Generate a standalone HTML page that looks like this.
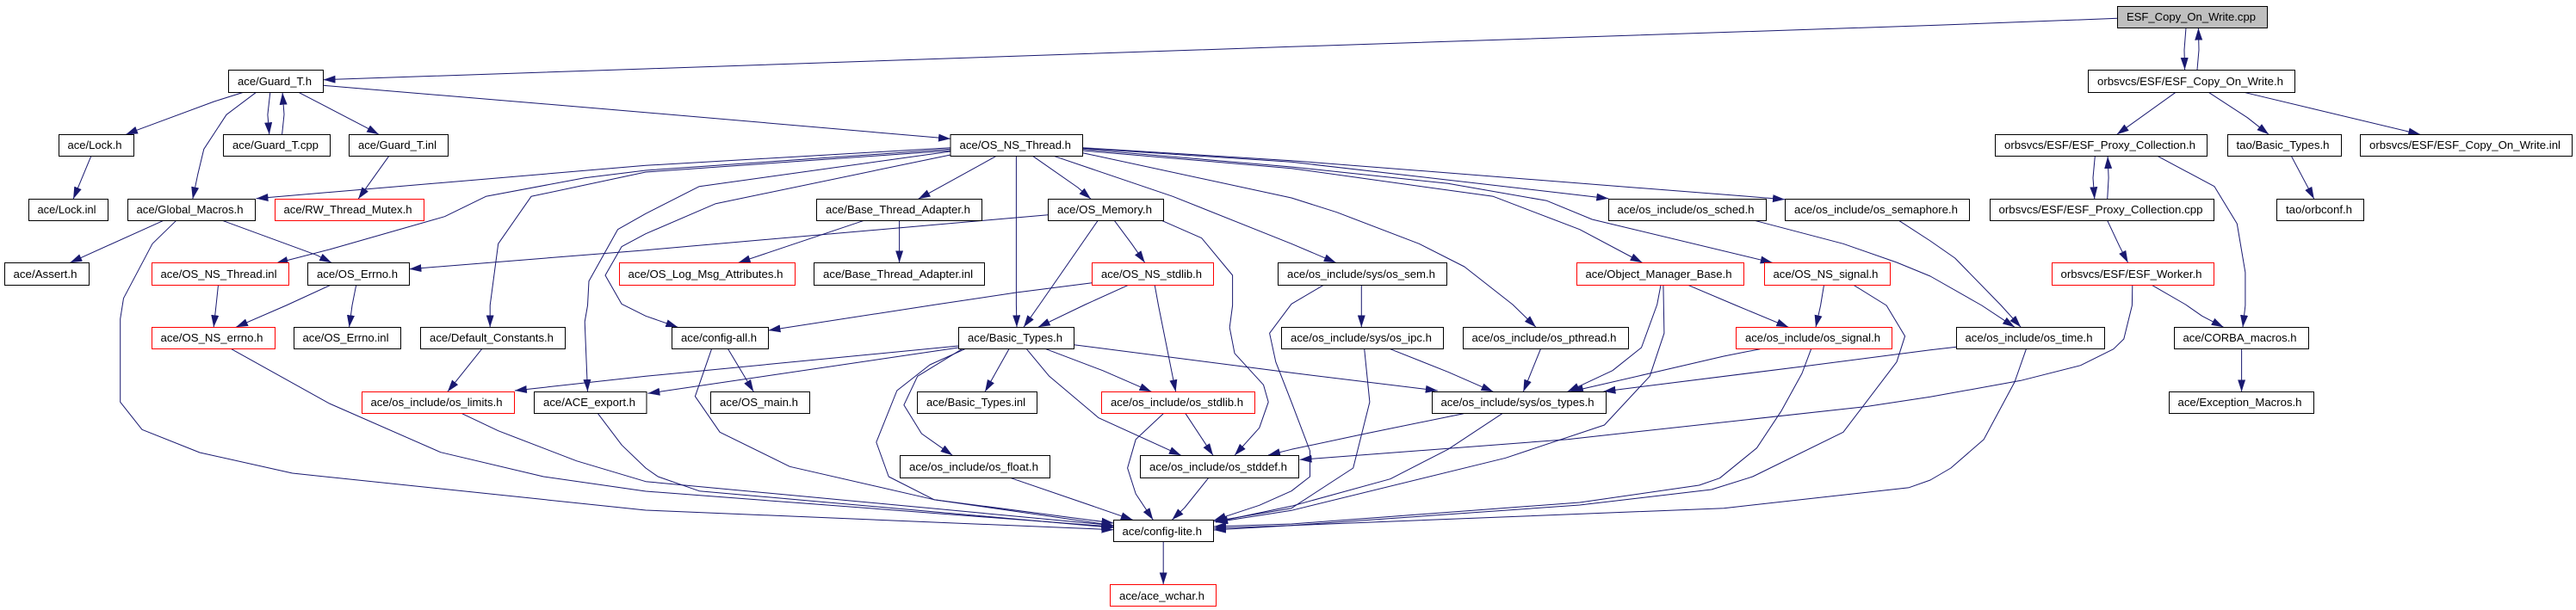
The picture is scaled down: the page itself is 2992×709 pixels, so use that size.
<!DOCTYPE html>
<html><head><meta charset="utf-8"><title>ESF_Copy_On_Write.cpp include graph</title>
<style>html,body{margin:0;padding:0;background:#fff}svg{display:block}
.e polyline{fill:none;stroke:#191970;stroke-width:1;marker-end:url(#a);stroke-linejoin:round}
.n rect{fill:#fff;stroke:#000;stroke-width:1}
.n rect.r{stroke:#f00}
.n rect.g{fill:#bfbfbf}
text{font-family:"Liberation Sans",sans-serif;font-size:13.33px;fill:#000}
</style></head><body>
<svg xmlns="http://www.w3.org/2000/svg" width="2992" height="709" viewBox="0 0 2992 709">
<defs><marker id="a" markerUnits="userSpaceOnUse" markerWidth="15" markerHeight="10" refX="14" refY="4.5" orient="auto"><path d="M0,0L14,4.5L0,9z" fill="#191970"/></marker></defs>
<g class="e">
<polyline points="2459.6,21.3 2250,29.3 1500,54.3 750,80 375.5,92.7"/>
<polyline points="2539,32.3 2537,58 2537.6,81"/>
<polyline points="2552,81 2554,58 2553.4,32.7"/>
<polyline points="282,107.5 248.7,118 157.8,151.7 146,156.5"/>
<polyline points="297.5,107.3 263,133.3 236.8,173.3 229.6,203.3 223.8,231.3"/>
<polyline points="313.8,107.3 310.9,133.3 312.8,156.3"/>
<polyline points="327.6,156.3 330,133 328.1,107.7"/>
<polyline points="346.8,107.3 425.6,148.3 440,156.3"/>
<polyline points="375.5,99.3 750,130.7 1104,161.3"/>
<polyline points="105.7,181.7 85.1,231.3"/>
<polyline points="451.5,181.7 416.1,231.3"/>
<polyline points="1104,171.7 750,192.3 297.5,230.7"/>
<polyline points="1104,173.3 750,198 679,206.7 564.4,228.3 516.5,251.7 382.6,290 320.5,306"/>
<polyline points="1104,175 750,200 617,228.3 578.7,283.3 569.2,354.9 569.2,380.3"/>
<polyline points="1104,176 812.2,216.7 750,248.3 717.5,266.7 684,326.7 682.5,355 679.2,374 682.5,455"/>
<polyline points="1104,180 831.3,236.7 750,271.7 722,286.7 703,320 722,353.3 750,367.3 787.3,380.3"/>
<polyline points="1180.4,181.7 1180.4,354 1181,380.3"/>
<polyline points="1156.6,181.7 1066.6,231.3"/>
<polyline points="1200,181.7 1252,218 1267,231.3"/>
<polyline points="1225,181.7 1362.2,228.3 1500,283.3 1551.7,305.3"/>
<polyline points="1257.5,177.7 1500,230 1552.6,246.7 1648.3,283.3 1700.9,310 1757,354 1784,380.3"/>
<polyline points="1257.5,175 1500,195.7 1734.4,228.3 1834.8,266.7 1907.5,305.3"/>
<polyline points="1257.5,173.3 1500,194 1681.8,213.3 1796.6,233.3 1849.2,255 2058.7,305.3"/>
<polyline points="1257.5,172.3 1500,188.3 1868.3,230.7"/>
<polyline points="1257.5,171.7 1500,186.7 2073,231.7"/>
<polyline points="189.9,256.3 81.3,305.3"/>
<polyline points="258.3,256.3 368.3,296.7 385,305.3"/>
<polyline points="204.7,256.3 177,283.3 143.5,346.7 139.7,370.7 139.7,467.3 165,499.3 232,526 339.6,550 750,593 1293.4,615.7"/>
<polyline points="1003.5,256.3 857.6,305.3"/>
<polyline points="1044.6,256.3 1044.6,305.3"/>
<polyline points="1217.3,249.7 750,290.7 475.4,312.7"/>
<polyline points="1275.2,256.3 1207.5,354 1189,380.3"/>
<polyline points="1294.3,256.3 1314.4,283.3 1329.7,305.3"/>
<polyline points="1349.3,256.3 1395.7,276.7 1431.6,320 1431.6,355 1428.2,380.7 1434,410.7 1467.5,447.3 1473.2,467.3 1462.7,497.3 1434,529.3"/>
<polyline points="1268.5,328.7 1180.4,340 1087,354 892.5,384"/>
<polyline points="1310.6,331.3 1260.5,354 1205.8,380.3"/>
<polyline points="1341.2,331.3 1345.5,355 1365.6,455.3"/>
<polyline points="253.5,331.3 251,355 248.2,380.3"/>
<polyline points="384,331.3 332.4,355 274,380.3"/>
<polyline points="413.7,331.3 409,355 405.6,380.3"/>
<polyline points="559.6,405.7 519.9,455.3"/>
<polyline points="268.8,405.7 382.6,469 511.8,525.7 631.4,554 750,571 1293.4,612.3"/>
<polyline points="536.6,480.7 578.7,500.7 669.6,535.7 750,559.7 1293.4,610.7"/>
<polyline points="694.5,480.7 722.2,517.3 750,544 764.3,554 812.2,570.7 1293.4,613.3"/>
<polyline points="1113.5,402 750,437.3 597.9,454"/>
<polyline points="1113.5,404 752.4,457.3"/>
<polyline points="1120.7,405.7 1080,424 1041.8,454 1017.8,514 1032.2,554 1084.8,580.7 1293.4,610.7"/>
<polyline points="1117.3,405.7 1065.7,437.3 1049.9,470.7 1070.4,504 1106.3,529.3"/>
<polyline points="1171.9,405.7 1144.1,455.3"/>
<polyline points="1192.4,405.7 1218.7,437.3 1276.1,485.7 1371.8,529.3"/>
<polyline points="1214.9,405.7 1280.8,430.7 1337.4,455.3"/>
<polyline points="1247.4,400.7 1500,433.3 1669.8,454"/>
<polyline points="1351.2,480.7 1319.2,510.7 1309.6,544 1319.2,574 1339.3,604.3"/>
<polyline points="1377,480.7 1409,529.3"/>
<polyline points="1173.3,555.3 1257,584 1315.8,604.3"/>
<polyline points="1403.8,555.3 1376,590 1361.3,604.3"/>
<polyline points="826.5,405.7 807.4,460.7 836.1,502.3 917.4,542.3 1084.8,580.7 1293.4,608"/>
<polyline points="845.7,405.7 875.3,455.3"/>
<polyline points="1351.2,629.7 1351.2,679.3"/>
<polyline points="1581.3,331.3 1581.3,380.3"/>
<polyline points="1537.3,331.3 1500,353.3 1474.6,387.3 1481.8,420.7 1500,467.3 1521.5,524 1521.5,554 1500,570.7 1462.7,587.3 1410,604.7"/>
<polyline points="1584.7,405.7 1590.9,467.3 1571.7,544 1500,590.7 1410,606"/>
<polyline points="1614.8,405.7 1681.8,432.3 1734.4,455.3"/>
<polyline points="1789.4,405.7 1769.3,455.3"/>
<polyline points="1699.9,480.7 1586.1,504 1500,522.3 1473,529"/>
<polyline points="1744.8,480.7 1681.8,522.3 1614.8,556.7 1500,588.3 1412,606.7"/>
<polyline points="1929,331.3 1924.7,354 1906.5,404 1873,430.7 1820.5,455.3"/>
<polyline points="1931.9,331.3 1932.9,387.3 1916.2,437.3 1863.5,494 1748.7,532.3 1500,593.3 1412,607"/>
<polyline points="1960.6,331.3 2016.5,355 2077.3,380.3"/>
<polyline points="2118.5,331.3 2114.6,355 2109,380.3"/>
<polyline points="2152.9,331.3 2191.1,355 2212.6,390.7 2203,420.7 2140.9,502.3 2035.7,554 1987.9,569 1834.8,587 1500,610.7 1410,614"/>
<polyline points="2044.3,405.7 2002.2,414 1916.1,434 1825,455"/>
<polyline points="2103.6,405.7 2093,434 2069.2,477.3 2040.5,520.7 1997.5,555.7 1973.5,564 1834.8,584 1500,609 1410,612"/>
<polyline points="2038,256.3 2140.9,283.3 2203,305 2242,321 2301.8,355 2340,380.3"/>
<polyline points="2205.5,256.3 2242,280 2270.7,300 2324.3,355 2347.2,380.3"/>
<polyline points="2272.6,403.3 2242,406.7 2095.5,425.7 1862.5,455"/>
<polyline points="2353.4,405.7 2340,444 2304.2,510.7 2265.9,544 2242,558 2217.4,566.7 2002.2,590.7 1500,610.7 1410,616"/>
<polyline points="2506.5,181.7 2572,216.7 2598.3,260 2607.9,316.7 2607.9,355 2605,380.3"/>
<polyline points="2433.3,181.7 2431,206.7 2432.8,231.3"/>
<polyline points="2447.7,231.3 2449.1,206.7 2448.1,182"/>
<polyline points="2447.7,256.3 2462,286.7 2471.6,305.3"/>
<polyline points="2499.3,331.3 2538.6,354 2557.7,367.3 2582.6,380.3"/>
<polyline points="2476.8,331.3 2476.4,355 2466.8,394 2454.8,405.7 2416.6,424.7 2347.2,442.3 2242,461.3 2169.6,472.3 1820.5,510.7 1509.6,534.3"/>
<polyline points="2527,107.3 2458.7,156.3"/>
<polyline points="2565.3,107.3 2610.3,136.7 2635.2,156.3"/>
<polyline points="2606.5,107.3 2811.2,156.3"/>
<polyline points="2661.5,181.7 2687.8,231.3"/>
<polyline points="2603.6,405.7 2603.6,455.3"/>
</g>
<g class="n">
<rect class="g" x="2459.5" y="7.5" width="174" height="25"/><text x="2470" y="24" textLength="150" lengthAdjust="spacingAndGlyphs">ESF_Copy_On_Write.cpp</text>
<rect x="2425.5" y="81.5" width="240" height="26"/><text x="2436" y="99" textLength="216" lengthAdjust="spacingAndGlyphs">orbsvcs/ESF/ESF_Copy_On_Write.h</text>
<rect x="265.5" y="81.5" width="110" height="26"/><text x="276" y="99" textLength="86" lengthAdjust="spacingAndGlyphs">ace/Guard_T.h</text>
<rect x="68.5" y="156.5" width="87" height="25"/><text x="78.5" y="173" textLength="63" lengthAdjust="spacingAndGlyphs">ace/Lock.h</text>
<rect x="259.5" y="156.5" width="124" height="25"/><text x="270" y="173" textLength="100" lengthAdjust="spacingAndGlyphs">ace/Guard_T.cpp</text>
<rect x="405.5" y="156.5" width="115" height="25"/><text x="416" y="173" textLength="91" lengthAdjust="spacingAndGlyphs">ace/Guard_T.inl</text>
<rect x="1104" y="156.5" width="153.5" height="25"/><text x="1114.5" y="173" textLength="129.5" lengthAdjust="spacingAndGlyphs">ace/OS_NS_Thread.h</text>
<rect x="2317.5" y="156.5" width="246" height="25"/><text x="2328" y="173" textLength="222" lengthAdjust="spacingAndGlyphs">orbsvcs/ESF/ESF_Proxy_Collection.h</text>
<rect x="2587.5" y="156.5" width="132" height="25"/><text x="2597.5" y="173" textLength="108" lengthAdjust="spacingAndGlyphs">tao/Basic_Types.h</text>
<rect x="2741.5" y="156.5" width="246" height="25"/><text x="2752" y="173" textLength="222" lengthAdjust="spacingAndGlyphs">orbsvcs/ESF/ESF_Copy_On_Write.inl</text>
<rect x="33.5" y="231.5" width="92" height="25"/><text x="43.5" y="248" textLength="68" lengthAdjust="spacingAndGlyphs">ace/Lock.inl</text>
<rect x="148.5" y="231.5" width="148" height="25"/><text x="158.5" y="248" textLength="124" lengthAdjust="spacingAndGlyphs">ace/Global_Macros.h</text>
<rect class="r" x="319.5" y="231.5" width="173" height="25"/><text x="329.5" y="248" textLength="149" lengthAdjust="spacingAndGlyphs">ace/RW_Thread_Mutex.h</text>
<rect x="948.5" y="231.5" width="192" height="25"/><text x="959" y="248" textLength="168" lengthAdjust="spacingAndGlyphs">ace/Base_Thread_Adapter.h</text>
<rect x="1217.5" y="231.5" width="134" height="25"/><text x="1228" y="248" textLength="110" lengthAdjust="spacingAndGlyphs">ace/OS_Memory.h</text>
<rect x="1868.5" y="231.5" width="183" height="25"/><text x="1878.5" y="248" textLength="159" lengthAdjust="spacingAndGlyphs">ace/os_include/os_sched.h</text>
<rect x="2073.5" y="231.5" width="214" height="25"/><text x="2084" y="248" textLength="190" lengthAdjust="spacingAndGlyphs">ace/os_include/os_semaphore.h</text>
<rect x="2311.5" y="231.5" width="260" height="25"/><text x="2321.5" y="248" textLength="237" lengthAdjust="spacingAndGlyphs">orbsvcs/ESF/ESF_Proxy_Collection.cpp</text>
<rect x="2644.5" y="231.5" width="101" height="25"/><text x="2655" y="248" textLength="77" lengthAdjust="spacingAndGlyphs">tao/orbconf.h</text>
<rect x="5.5" y="305.5" width="98" height="26"/><text x="15.5" y="323" textLength="74" lengthAdjust="spacingAndGlyphs">ace/Assert.h</text>
<rect class="r" x="176.5" y="305.5" width="159" height="26"/><text x="186.5" y="323" textLength="135" lengthAdjust="spacingAndGlyphs">ace/OS_NS_Thread.inl</text>
<rect x="357.5" y="305.5" width="118" height="26"/><text x="368" y="323" textLength="94" lengthAdjust="spacingAndGlyphs">ace/OS_Errno.h</text>
<rect class="r" x="719.5" y="305.5" width="204" height="26"/><text x="729.5" y="323" textLength="180" lengthAdjust="spacingAndGlyphs">ace/OS_Log_Msg_Attributes.h</text>
<rect x="945.5" y="305.5" width="198" height="26"/><text x="956" y="323" textLength="174" lengthAdjust="spacingAndGlyphs">ace/Base_Thread_Adapter.inl</text>
<rect class="r" x="1268.5" y="305.5" width="141" height="26"/><text x="1279" y="323" textLength="117" lengthAdjust="spacingAndGlyphs">ace/OS_NS_stdlib.h</text>
<rect x="1484.5" y="305.5" width="196" height="26"/><text x="1495" y="323" textLength="172" lengthAdjust="spacingAndGlyphs">ace/os_include/sys/os_sem.h</text>
<rect class="r" x="1831.5" y="305.5" width="194" height="26"/><text x="1841.5" y="323" textLength="170" lengthAdjust="spacingAndGlyphs">ace/Object_Manager_Base.h</text>
<rect class="r" x="2049.5" y="305.5" width="146" height="26"/><text x="2059.5" y="323" textLength="122" lengthAdjust="spacingAndGlyphs">ace/OS_NS_signal.h</text>
<rect class="r" x="2383.5" y="305.5" width="188" height="26"/><text x="2393.5" y="323" textLength="164" lengthAdjust="spacingAndGlyphs">orbsvcs/ESF/ESF_Worker.h</text>
<rect class="r" x="176.5" y="380.5" width="143" height="25"/><text x="186.5" y="397" textLength="119" lengthAdjust="spacingAndGlyphs">ace/OS_NS_errno.h</text>
<rect x="341.5" y="380.5" width="124" height="25"/><text x="351.5" y="397" textLength="100" lengthAdjust="spacingAndGlyphs">ace/OS_Errno.inl</text>
<rect x="488.5" y="380.5" width="168" height="25"/><text x="499" y="397" textLength="144" lengthAdjust="spacingAndGlyphs">ace/Default_Constants.h</text>
<rect x="780.5" y="380.5" width="112" height="25"/><text x="791" y="397" textLength="88" lengthAdjust="spacingAndGlyphs">ace/config-all.h</text>
<rect x="1113.5" y="380.5" width="134" height="25"/><text x="1124" y="397" textLength="110" lengthAdjust="spacingAndGlyphs">ace/Basic_Types.h</text>
<rect x="1488.5" y="380.5" width="188" height="25"/><text x="1499" y="397" textLength="164" lengthAdjust="spacingAndGlyphs">ace/os_include/sys/os_ipc.h</text>
<rect x="1699.5" y="380.5" width="192" height="25"/><text x="1709.5" y="397" textLength="168" lengthAdjust="spacingAndGlyphs">ace/os_include/os_pthread.h</text>
<rect class="r" x="2016.5" y="380.5" width="181" height="25"/><text x="2027" y="397" textLength="157" lengthAdjust="spacingAndGlyphs">ace/os_include/os_signal.h</text>
<rect x="2272.5" y="380.5" width="172" height="25"/><text x="2282.5" y="397" textLength="148" lengthAdjust="spacingAndGlyphs">ace/os_include/os_time.h</text>
<rect x="2525.5" y="380.5" width="156" height="25"/><text x="2535.5" y="397" textLength="132" lengthAdjust="spacingAndGlyphs">ace/CORBA_macros.h</text>
<rect class="r" x="420.5" y="455.5" width="177" height="25"/><text x="430.5" y="472" textLength="153" lengthAdjust="spacingAndGlyphs">ace/os_include/os_limits.h</text>
<rect x="620.5" y="455.5" width="130.5" height="25"/><text x="631" y="472" textLength="107" lengthAdjust="spacingAndGlyphs">ace/ACE_export.h</text>
<rect x="825.5" y="455.5" width="115" height="25"/><text x="836" y="472" textLength="91" lengthAdjust="spacingAndGlyphs">ace/OS_main.h</text>
<rect x="1065.5" y="455.5" width="139" height="25"/><text x="1076" y="472" textLength="115" lengthAdjust="spacingAndGlyphs">ace/Basic_Types.inl</text>
<rect class="r" x="1279.5" y="455.5" width="178" height="25"/><text x="1290" y="472" textLength="154" lengthAdjust="spacingAndGlyphs">ace/os_include/os_stdlib.h</text>
<rect x="1663.5" y="455.5" width="202" height="25"/><text x="1673.5" y="472" textLength="178" lengthAdjust="spacingAndGlyphs">ace/os_include/sys/os_types.h</text>
<rect x="2519.5" y="455.5" width="168" height="25"/><text x="2529.5" y="472" textLength="144" lengthAdjust="spacingAndGlyphs">ace/Exception_Macros.h</text>
<rect x="1045.5" y="529.5" width="174" height="26"/><text x="1056" y="547" textLength="150" lengthAdjust="spacingAndGlyphs">ace/os_include/os_float.h</text>
<rect x="1324.5" y="529.5" width="184" height="26"/><text x="1335" y="547" textLength="160" lengthAdjust="spacingAndGlyphs">ace/os_include/os_stddef.h</text>
<rect x="1293.5" y="604.5" width="116" height="25"/><text x="1303.5" y="622" textLength="92.5" lengthAdjust="spacingAndGlyphs">ace/config-lite.h</text>
<rect class="r" x="1289.5" y="679.5" width="123" height="25"/><text x="1300" y="697" textLength="99" lengthAdjust="spacingAndGlyphs">ace/ace_wchar.h</text>
</g>
</svg>
</body></html>
